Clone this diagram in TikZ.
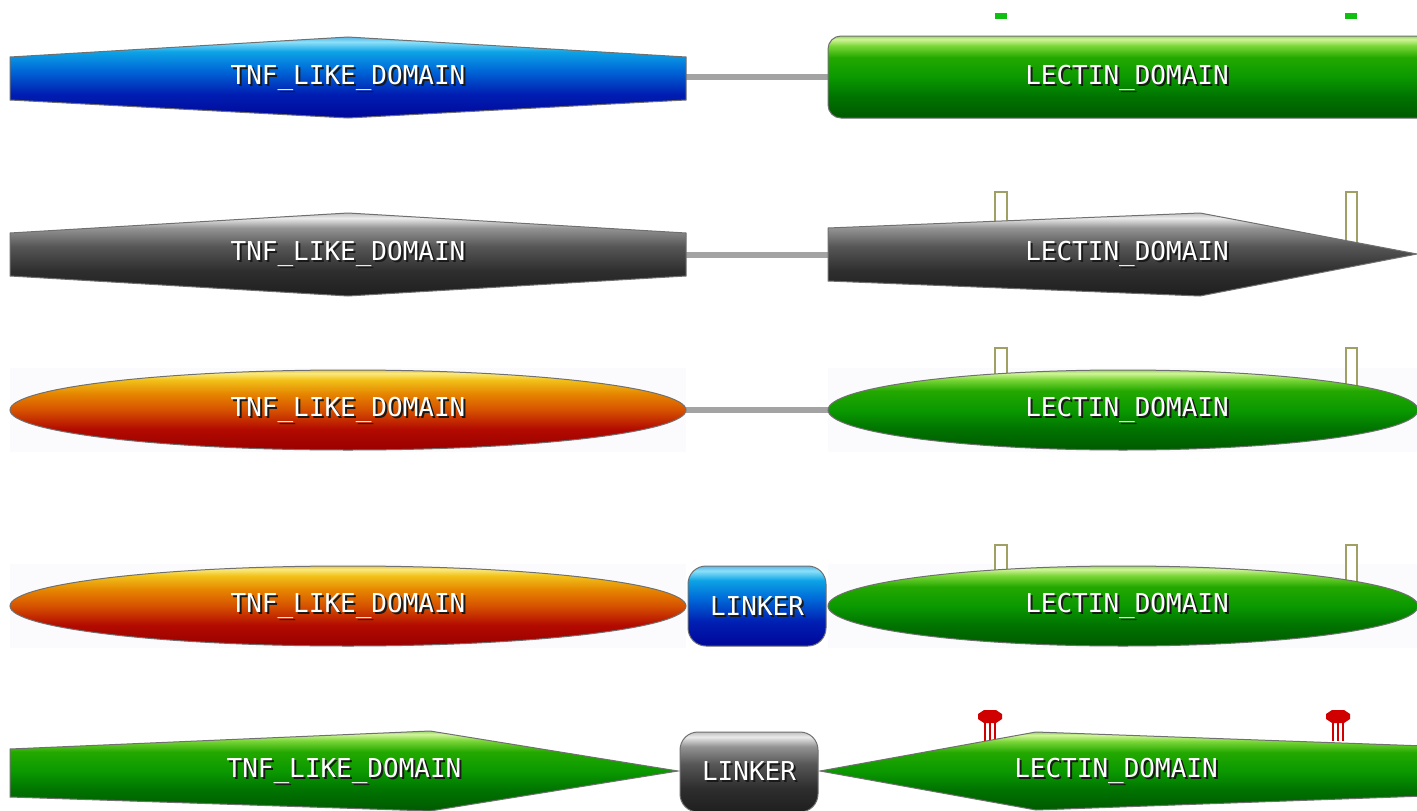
\documentclass[tikz,border=0pt]{standalone}
\usepackage{fontspec}
\newfontfamily\pixfont{DejaVu Sans Mono}

% glossy vertical shadings (path box is mapped onto 25bp..75bp)
\pgfdeclareverticalshading{blueglass}{100bp}{%
  rgb(0bp)=(0,.03,.6); rgb(25bp)=(0,.03,.6); rgb(40bp)=(0,.12,.70);
  rgb(55bp)=(0,.42,.85); rgb(66bp)=(.05,.64,.90); rgb(72bp)=(.55,.88,.98);
  rgb(75bp)=(.35,.72,.90); rgb(100bp)=(.35,.72,.90)}
\pgfdeclareverticalshading{grayglass}{100bp}{%
  rgb(0bp)=(.12,.12,.12); rgb(25bp)=(.12,.12,.12); rgb(40bp)=(.18,.18,.18);
  rgb(55bp)=(.34,.34,.34); rgb(66bp)=(.58,.58,.58); rgb(72bp)=(.92,.92,.92);
  rgb(75bp)=(.75,.75,.75); rgb(100bp)=(.75,.75,.75)}
\pgfdeclareverticalshading{orangeglass}{100bp}{%
  rgb(0bp)=(.60,0,0); rgb(25bp)=(.60,0,0); rgb(38bp)=(.70,.04,0);
  rgb(50bp)=(.84,.32,0); rgb(60bp)=(.90,.52,0); rgb(69bp)=(.95,.76,.10);
  rgb(73bp)=(.98,.92,.50); rgb(75bp)=(.90,.78,.30); rgb(100bp)=(.90,.78,.30)}
\pgfdeclareverticalshading{greenglass}{100bp}{%
  rgb(0bp)=(0,.35,0); rgb(25bp)=(0,.35,0); rgb(38bp)=(0,.45,0);
  rgb(50bp)=(.04,.60,0); rgb(62bp)=(.14,.66,0); rgb(69bp)=(.48,.84,.22);
  rgb(73bp)=(.82,.96,.60); rgb(75bp)=(.60,.84,.40); rgb(100bp)=(.60,.84,.40)}

\definecolor{edgec}{HTML}{707070}
\definecolor{connc}{HTML}{A3A3A3}
\definecolor{olivec}{HTML}{A0A064}
\definecolor{greenmark}{HTML}{10C010}
\definecolor{redmark}{HTML}{D00000}
\definecolor{tintc}{HTML}{FBFBFD}

\tikzset{
  dom/.style={draw=edgec, line width=1pt},
  conn/.style={draw=connc, line width=6.5pt},
  lbl/.style={text=white, font=\pixfont\fontsize{26}{26}\selectfont, inner sep=0pt},
  lblshade/.style={text=black!90, font=\pixfont\fontsize{26}{26}\selectfont, inner sep=0pt},
  sitebox/.style={draw=olivec, fill=white, line width=1.6pt},
  flag/.style={fill=greenmark},
  tint/.style={fill=tintc},
}

\newcommand{\domlabel}[4]{%
  \node[lblshade] at ({#2+2},{#3+2}) {#4};
  \node[lbl] (#1) at (#2,#3) {#4};}

\newcommand{\redsite}[1]{%
  \fill[redmark] ({#1-6},710) -- ({#1+6},710) -- ({#1+12},714) -- ({#1+12},719)
     -- ({#1+6},723) -- ({#1-6},723) -- ({#1-12},719) -- ({#1-12},714) -- cycle;
  \foreach \dx in {-5,0,5} {\draw[redmark, line width=2.4pt] ({#1+\dx},722) -- ({#1+\dx},741);}}

\begin{document}
\begin{tikzpicture}[x=1pt, y=-1pt]
\useasboundingbox (0,0) rectangle (1417,811);
\begin{scope}
\clip (0,0) rectangle (1417,811);
\fill[white] (0,0) rectangle (1417,811);

% faint boxes behind the elliptical rows
\fill[tint] (10,368) rectangle (686,452);
\fill[tint] (828,368) rectangle (1417,452);
\fill[tint] (10,564) rectangle (686,648);
\fill[tint] (828,564) rectangle (1417,648);

% ---------- row 1 ----------
\coordinate (tnf1-e) at (686,77);
\coordinate (lec1-w) at (828,77);
\draw[conn] (tnf1-e) -- (lec1-w);
\fill[flag] (995,13) rectangle (1007,19);
\fill[flag] (1345,13) rectangle (1357,19);
\shadedraw[dom, shading=blueglass]
  (10,57) -- (348,37) -- (686,57) -- (686,100) -- (348,118) -- (10,100) -- cycle;
\shadedraw[dom, shading=greenglass, rounded corners=13pt]
  (828,36) rectangle (1450,118);
\domlabel{tnf1}{348}{78}{TNF\_LIKE\_DOMAIN}
\domlabel{lec1}{1127}{78}{LECTIN\_DOMAIN}

% ---------- row 2 ----------
\coordinate (tnf2-e) at (686,255);
\coordinate (lec2-w) at (828,255);
\draw[conn] (tnf2-e) -- (lec2-w);
\draw[sitebox] (995,235) -- (995,192) -- (1007,192) -- (1007,235);
\draw[sitebox] (1346,250) -- (1346,192) -- (1357,192) -- (1357,250);
\shadedraw[dom, shading=grayglass]
  (10,233) -- (348,213) -- (686,233) -- (686,276) -- (348,296) -- (10,276) -- cycle;
\shadedraw[dom, shading=grayglass]
  (828,228) -- (1200,213) -- (1417,254) -- (1200,296) -- (828,281) -- cycle;
\domlabel{tnf2}{348}{254}{TNF\_LIKE\_DOMAIN}
\domlabel{lec2}{1127}{254}{LECTIN\_DOMAIN}

% ---------- row 3 ----------
\coordinate (tnf3-e) at (686,410);
\coordinate (lec3-w) at (828,410);
\draw[conn] (tnf3-e) -- (lec3-w);
\draw[sitebox] (995,385) -- (995,348) -- (1007,348) -- (1007,385);
\draw[sitebox] (1346,392) -- (1346,348) -- (1357,348) -- (1357,392);
\shadedraw[dom, shading=orangeglass] (348,410) ellipse [x radius=338, y radius=40];
\shadedraw[dom, shading=greenglass] (1123,410) ellipse [x radius=295, y radius=40];
\domlabel{tnf3}{348}{410}{TNF\_LIKE\_DOMAIN}
\domlabel{lec3}{1127}{410}{LECTIN\_DOMAIN}

% ---------- row 4 ----------
\draw[sitebox] (995,582) -- (995,545) -- (1007,545) -- (1007,582);
\draw[sitebox] (1346,588) -- (1346,545) -- (1357,545) -- (1357,588);
\shadedraw[dom, shading=orangeglass] (348,606) ellipse [x radius=338, y radius=40];
\shadedraw[dom, shading=blueglass, rounded corners=18pt] (688,566) rectangle (826,646);
\shadedraw[dom, shading=greenglass] (1123,606) ellipse [x radius=295, y radius=40];
\domlabel{tnf4}{348}{606}{TNF\_LIKE\_DOMAIN}
\domlabel{lnk4}{757}{606}{LINKER}
\domlabel{lec4}{1127}{606}{LECTIN\_DOMAIN}

% ---------- row 5 ----------
\redsite{990}
\redsite{1338}
\shadedraw[dom, shading=greenglass]
  (10,749) -- (430,731) -- (678,771) -- (430,811) -- (10,797) -- cycle;
\shadedraw[dom, shading=grayglass, rounded corners=18pt] (680,732) rectangle (818,812);
\shadedraw[dom, shading=greenglass]
  (820,771) -- (1036,732) -- (1425,746) -- (1425,796) -- (1036,810) -- cycle;
\domlabel{tnf5}{344}{771}{TNF\_LIKE\_DOMAIN}
\domlabel{lnk5}{749}{771}{LINKER}
\domlabel{lec5}{1116}{771}{LECTIN\_DOMAIN}
\end{scope}
\end{tikzpicture}
\end{document}
